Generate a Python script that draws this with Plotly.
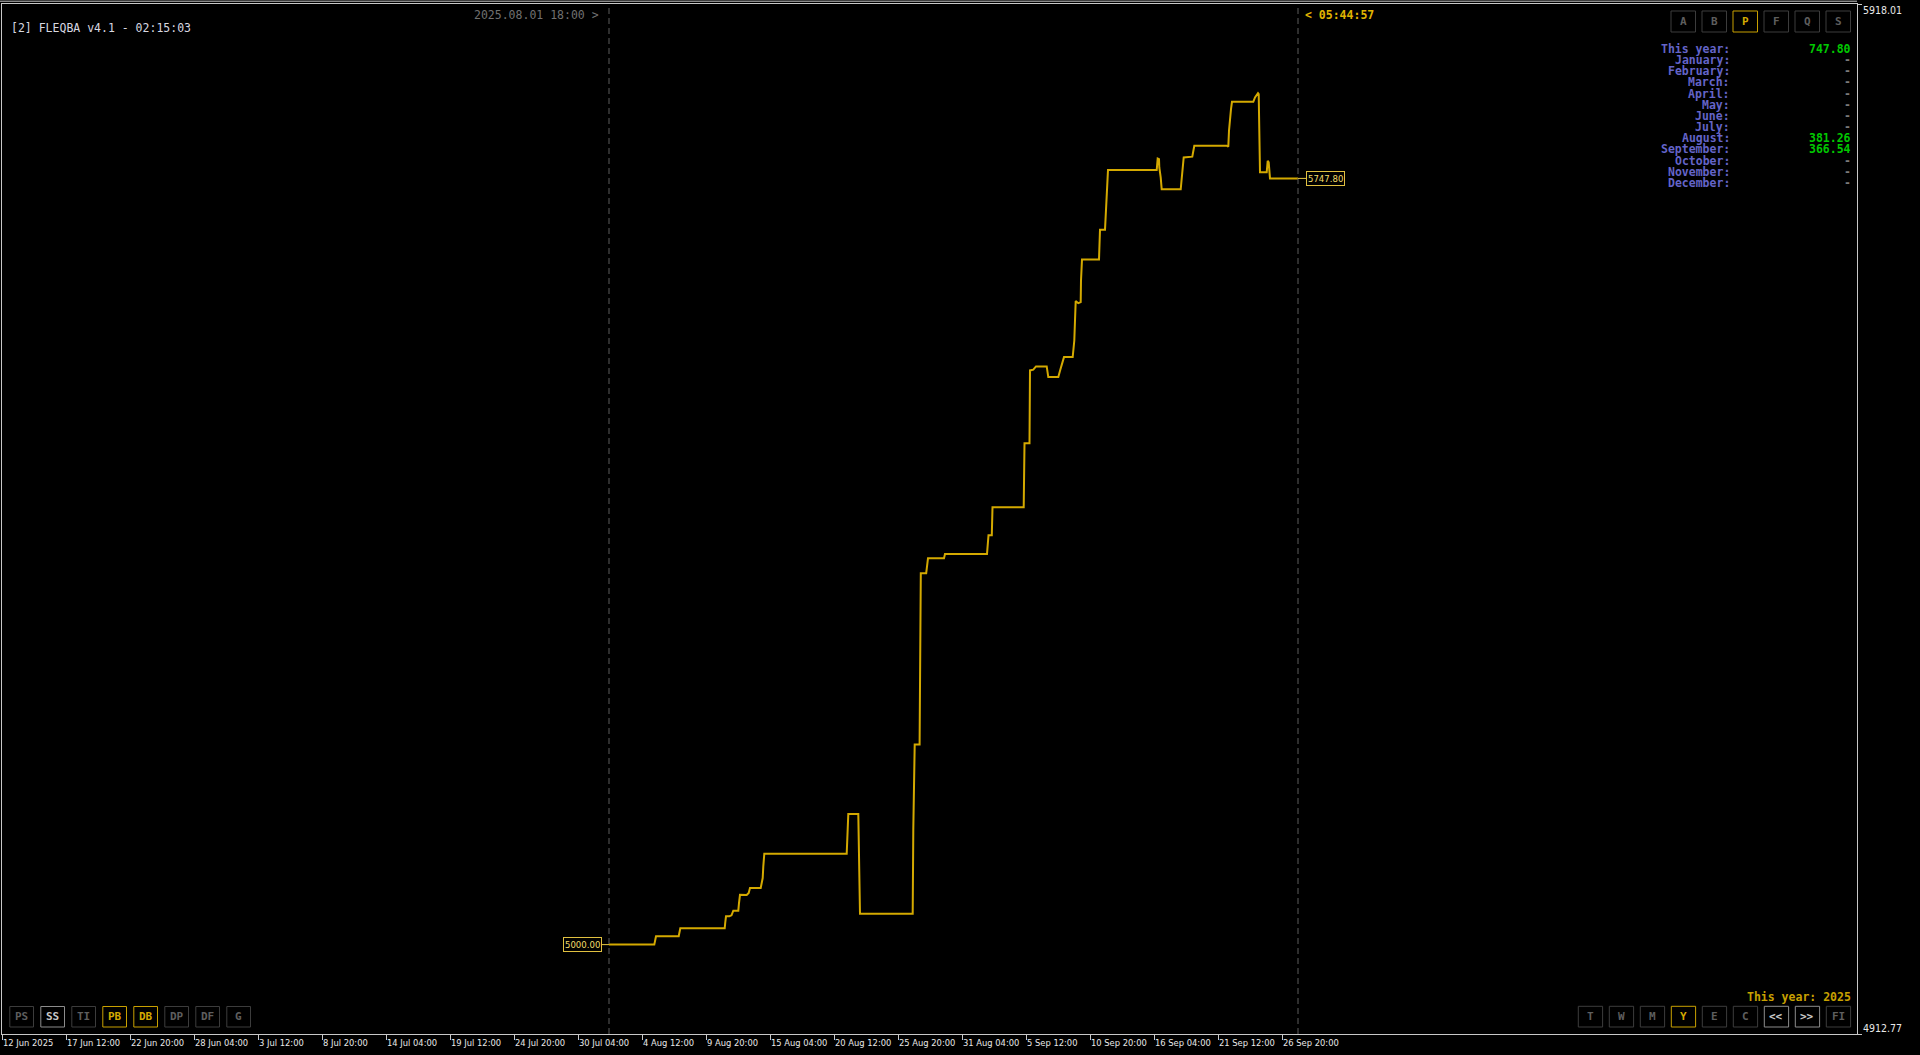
import plotly.graph_objects as go

# ---------------- data ----------------
times = [
    "2025-08-01 18:00", "2025-08-05 12:36", "2025-08-05 16:00", "2025-08-07 13:24", "2025-08-07 16:36",
    "2025-08-11 09:24", "2025-08-11 10:24", "2025-08-11 12:00", "2025-08-11 18:36", "2025-08-11 23:00",
    "2025-08-12 02:36", "2025-08-12 12:36", "2025-08-12 14:00", "2025-08-12 16:00", "2025-08-13 05:24",
    "2025-08-13 09:24", "2025-08-13 12:00", "2025-08-14 09:24", "2025-08-14 11:24", "2025-08-14 13:24",
    "2025-08-14 14:36", "2025-08-14 16:36", "2025-08-21 13:24", "2025-08-21 14:36", "2025-08-21 16:36",
    "2025-08-22 12:36", "2025-08-22 14:00", "2025-08-22 16:00", "2025-08-27 01:24", "2025-08-27 02:36",
    "2025-08-27 05:24", "2025-08-27 15:12", "2025-08-27 17:36", "2025-08-28 04:24", "2025-08-28 08:00",
    "2025-08-29 16:00", "2025-08-29 18:00", "2025-09-02 06:00", "2025-09-02 09:00", "2025-09-02 15:36",
    "2025-09-02 17:00", "2025-09-05 07:24", "2025-09-05 09:00", "2025-09-05 19:00", "2025-09-05 20:00",
    "2025-09-06 02:36", "2025-09-06 08:00", "2025-09-07 05:24", "2025-09-07 08:36", "2025-09-08 04:36",
    "2025-09-08 08:36", "2025-09-08 16:00", "2025-09-09 09:24", "2025-09-09 10:36", "2025-09-09 12:36",
    "2025-09-09 14:00", "2025-09-09 15:24", "2025-09-09 20:36", "2025-09-10 01:24", "2025-09-10 02:00",
    "2025-09-10 04:00", "2025-09-11 14:00", "2025-09-11 14:36", "2025-09-11 16:00", "2025-09-12 02:00",
    "2025-09-12 03:24", "2025-09-12 05:24", "2025-09-12 06:36", "2025-09-12 08:00", "2025-09-16 09:24",
    "2025-09-16 11:24", "2025-09-16 14:00", "2025-09-16 14:36", "2025-09-16 17:24", "2025-09-16 19:24",
    "2025-09-18 09:24", "2025-09-18 11:24", "2025-09-18 13:24", "2025-09-18 15:24", "2025-09-19 08:36",
    "2025-09-19 10:00", "2025-09-19 12:36", "2025-09-22 05:24", "2025-09-22 08:36", "2025-09-22 10:00",
    "2025-09-22 12:00", "2025-09-22 14:00", "2025-09-22 16:00", "2025-09-24 10:36", "2025-09-24 14:00",
    "2025-09-24 17:24", "2025-09-24 20:00", "2025-09-24 21:24", "2025-09-24 22:36", "2025-09-25 00:00",
    "2025-09-25 13:24", "2025-09-25 15:24", "2025-09-25 17:24", "2025-09-25 18:36", "2025-09-25 20:00",
    "2025-09-28 04:00",
]
equity = [
    5000.00, 5000.00, 5008.10, 5008.10, 5015.90,
    5015.90, 5021.10, 5027.60, 5027.60, 5028.60,
    5033.10, 5033.10, 5040.60, 5048.70, 5048.40,
    5050.40, 5055.30, 5055.30, 5060.10, 5065.00,
    5076.30, 5088.70, 5088.70, 5108.90, 5127.40,
    5127.40, 5078.00, 5030.20, 5030.20, 5112.10,
    5195.40, 5195.40, 5362.50, 5362.50, 5377.20,
    5377.20, 5381.26, 5381.26, 5399.60, 5399.60,
    5426.90, 5426.90, 5489.20, 5489.20, 5560.40,
    5561.10, 5564.30, 5564.30, 5553.90, 5553.90,
    5561.10, 5573.40, 5573.40, 5580.60, 5589.60,
    5609.10, 5628.00, 5626.00, 5627.00, 5648.10,
    5668.60, 5668.60, 5683.20, 5697.80, 5697.80,
    5709.80, 5722.90, 5739.00, 5756.00, 5756.00,
    5767.30, 5766.70, 5758.50, 5748.80, 5737.10,
    5737.10, 5745.60, 5760.20, 5768.30, 5769.00,
    5773.80, 5779.70, 5779.70, 5778.70, 5794.30,
    5810.60, 5815.40, 5822.60, 5822.60, 5826.80,
    5830.10, 5831.00, 5830.10, 5792.00, 5753.70,
    5753.70, 5765.00, 5763.40, 5756.00, 5747.80,
    5747.80,
]

tick_times = [
    "2025-06-12 04:00", "2025-06-17 12:00", "2025-06-22 20:00", "2025-06-28 04:00", "2025-07-03 12:00",
    "2025-07-08 20:00", "2025-07-14 04:00", "2025-07-19 12:00", "2025-07-24 20:00", "2025-07-30 04:00",
    "2025-08-04 12:00", "2025-08-09 20:00", "2025-08-15 04:00", "2025-08-20 12:00", "2025-08-25 20:00",
    "2025-08-31 04:00", "2025-09-05 12:00", "2025-09-10 20:00", "2025-09-16 04:00", "2025-09-21 12:00",
    "2025-09-26 20:00",
]
tick_labels = [
    "12 Jun 2025", "17 Jun 12:00", "22 Jun 20:00", "28 Jun 04:00", "3 Jul 12:00",
    "8 Jul 20:00", "14 Jul 04:00", "19 Jul 12:00", "24 Jul 20:00", "30 Jul 04:00",
    "4 Aug 12:00", "9 Aug 20:00", "15 Aug 04:00", "20 Aug 12:00", "25 Aug 20:00",
    "31 Aug 04:00", "5 Sep 12:00", "10 Sep 20:00", "16 Sep 04:00", "21 Sep 12:00",
    "26 Sep 20:00",
]
x_range = ["2025-06-12 04:00", "2025-11-13 18:00"]
y_min, y_max = 4912.77, 5918.01

start_time, start_value = "2025-08-01 18:00", 5000.00
end_time, end_value = "2025-09-28 04:00", 5747.80

stat_labels = ["This year:", "January:", "February:", "March:", "April:", "May:", "June:",
               "July:", "August:", "September:", "October:", "November:", "December:"]
stat_values = ["747.80", "-", "-", "-", "-", "-", "-", "-", "381.26", "366.54", "-", "-", "-"]

top_buttons = ["A", "B", "P", "F", "Q", "S"]
top_active = ["P"]
left_buttons = ["PS", "SS", "TI", "PB", "DB", "DP", "DF", "G"]
left_active = ["PB", "DB"]
left_light = ["SS"]
right_buttons = ["T", "W", "M", "Y", "E", "C", "<<", ">>", "FI"]
right_active = ["Y"]
right_light = ["<<", ">>"]

# ---------------- layout geometry (pixels) ----------------
FIG_W, FIG_H = 1920, 1055
L, R, T, B = 2, 1857, 4, 1034
W, H = R - L, B - T


def fx(x):
    return (x - L) / W


def fy(y):
    return (B - y) / H


MONO = "DejaVu Sans Mono, Consolas, monospace"
NARROW = "Liberation Sans Narrow, DejaVu Sans Condensed, Arial Narrow, sans-serif"
GOLD = "#D4A900"
BORDER = "#C8C8C8"

fig = go.Figure()
fig.add_trace(go.Scatter(
    x=times, y=equity, mode="lines",
    line=dict(color=GOLD, width=2),
    hoverinfo="skip", showlegend=False,
))

shapes = []
annotations = []

# outer top line of window
shapes.append(dict(type="line", xref="paper", yref="paper",
                   x0=fx(0), x1=1, y0=fy(1.2), y1=fy(1.2),
                   line=dict(color=BORDER, width=1)))

# vertical dashed lines (start + current time)
for t in (start_time, end_time):
    shapes.append(dict(type="line", xref="x", yref="paper", x0=t, x1=t, y0=0, y1=1,
                       line=dict(color="#5C5C5C", width=1, dash="6px,4px")))

# start / end value labels
annotations.append(dict(x=start_time, y=start_value, xref="x", yref="y",
                        text=f"{start_value:.2f}", showarrow=True, arrowhead=0,
                        arrowwidth=1, arrowcolor="#E8C840", ax=-27, ay=0,
                        font=dict(family=NARROW, size=9.5, color="#F2DC6A"),
                        bordercolor="#E0C040", borderwidth=1, borderpad=1, bgcolor="#000000"))
annotations.append(dict(x=end_time, y=end_value, xref="x", yref="y",
                        text=f"{end_value:.2f}", showarrow=True, arrowhead=0,
                        arrowwidth=1, arrowcolor="#E8C840", ax=27, ay=0,
                        font=dict(family=NARROW, size=9.5, color="#F2DC6A"),
                        bordercolor="#E0C040", borderwidth=1, borderpad=1, bgcolor="#000000"))

# title & time labels
annotations.append(dict(x=fx(9), y=fy(27.5), xref="paper", yref="paper", xanchor="left", yanchor="middle",
                        text="[2] FLEQBA v4.1 - 02:15:03", showarrow=False,
                        font=dict(family=MONO, size=11.5, color="#D8D8E0")))
annotations.append(dict(x=fx(601), y=fy(15), xref="paper", yref="paper", xanchor="right", yanchor="middle",
                        text="2025.08.01 18:00 >", showarrow=False,
                        font=dict(family=MONO, size=11.5, color="#707070")))
annotations.append(dict(x=fx(1303), y=fy(15), xref="paper", yref="paper", xanchor="left", yanchor="middle",
                        text="<b>&lt; 05:44:57</b>", showarrow=False,
                        font=dict(family=MONO, size=11.5, color="#E0B400")))

# y-axis extreme labels
annotations.append(dict(x=fx(1861), y=fy(10), xref="paper", yref="paper", xanchor="left", yanchor="middle",
                        text=f"{y_max:.2f}", showarrow=False,
                        font=dict(family=NARROW, size=10.5, color="#E8E8E8")))
annotations.append(dict(x=fx(1861), y=fy(1028), xref="paper", yref="paper", xanchor="left", yanchor="middle",
                        text=f"{y_min:.2f}", showarrow=False,
                        font=dict(family=NARROW, size=10.5, color="#E8E8E8")))

# stats panel
for i, (lab, val) in enumerate(zip(stat_labels, stat_values)):
    yy = 49 + i * 11.15
    annotations.append(dict(x=fx(1732), y=fy(yy), xref="paper", yref="paper", xanchor="right", yanchor="middle",
                            text=f"<b>{lab}</b>", showarrow=False,
                            font=dict(family=MONO, size=11.5, color="#6464C8")))
    col = "#00C800" if val != "-" else "#7A7A7A"
    annotations.append(dict(x=fx(1853), y=fy(yy), xref="paper", yref="paper", xanchor="right", yanchor="middle",
                            text=f"<b>{val}</b>", showarrow=False,
                            font=dict(family=MONO, size=11.5, color=col)))

annotations.append(dict(x=fx(1853), y=fy(997), xref="paper", yref="paper", xanchor="right", yanchor="middle",
                        text="<b>This year: 2025</b>", showarrow=False,
                        font=dict(family=MONO, size=11.5, color="#C8A000")))


def add_button(x0, y0, w, h, text, state):
    if state == "active":
        tc, bc = "#D4AA00", "#C8A000"
    elif state == "light":
        tc, bc = "#C8C8C8", "#8C8C8C"
    else:
        tc, bc = "#5E5E5E", "#3C3C3C"
    shapes.append(dict(type="rect", xref="paper", yref="paper",
                       x0=fx(x0), x1=fx(x0 + w), y0=fy(y0 + h), y1=fy(y0),
                       line=dict(color=bc, width=1), fillcolor="rgba(0,0,0,0)"))
    annotations.append(dict(x=fx(x0 + w / 2), y=fy(y0 + h / 2), xref="paper", yref="paper",
                            xanchor="center", yanchor="middle", text=f"<b>{text}</b>", showarrow=False,
                            font=dict(family=MONO, size=11, color=tc)))


for i, b in enumerate(top_buttons):
    add_button(1671 + 31 * i, 11, 24.5, 21, b, "active" if b in top_active else "off")
for i, b in enumerate(left_buttons):
    st = "active" if b in left_active else ("light" if b in left_light else "off")
    add_button(9.8 + 31.0 * i, 1006.5, 23.7, 20.5, b, st)
for i, b in enumerate(right_buttons):
    st = "active" if b in right_active else ("light" if b in right_light else "off")
    add_button(1578.3 + 31 * i, 1006.3, 24.3, 20.7, b, st)

fig.update_layout(
    width=FIG_W, height=FIG_H,
    margin=dict(l=L, r=FIG_W - R, t=T, b=FIG_H - B, pad=0, autoexpand=False),
    paper_bgcolor="#000000", plot_bgcolor="#000000",
    showlegend=False,
    shapes=shapes, annotations=annotations,
    xaxis=dict(type="date", range=x_range, tickvals=tick_times, ticktext=tick_labels,
               showgrid=False, zeroline=False, showline=True, mirror=True, automargin=False,
               linecolor=BORDER, linewidth=1, ticks="outside", ticklen=5, tickcolor=BORDER,
               tickangle=0, ticklabelposition="outside right",
               tickfont=dict(family=NARROW, size=9.3, color="#E8E8E8")),
    yaxis=dict(range=[y_min, y_max], side="right", tickvals=[y_min, y_max], automargin=False,
               showticklabels=False, showgrid=False, zeroline=False, showline=True, mirror=True,
               linecolor=BORDER, linewidth=1, ticks="outside", ticklen=4, tickcolor=BORDER),
    hovermode=False,
)

fig.write_html("out.html", config={"displayModeBar": False},
               post_script="document.body.style.margin='0px';document.body.style.overflow='hidden';")
